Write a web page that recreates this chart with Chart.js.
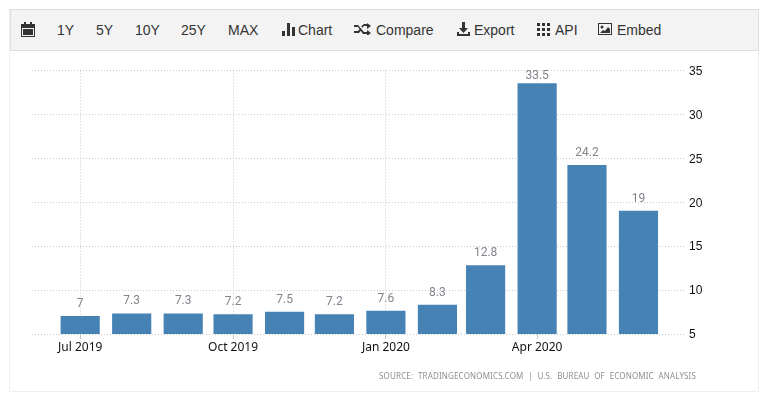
<!DOCTYPE html>
<html>
<head>
<meta charset="utf-8">
<title>Chart</title>
<script src="https://cdn.jsdelivr.net/npm/chart.js"></script>
<style>
  html, body { margin: 0; padding: 0; background: #fff; }
  body { width: 776px; height: 400px; position: relative; overflow: hidden; }
  #panel { position: absolute; left: 9px; top: 9px; width: 748px; height: 381px; border: 1px solid #efefef; box-sizing: content-box; }
  #toolbar { position: absolute; left: 10px; top: 9px; width: 747px; height: 40px; background: #f3f3f3; border: 1px solid #dedede; font: 14px "Liberation Sans", Arial, sans-serif; color: #333; }
  #toolbar span { position: absolute; top: 12px; line-height: 16px; white-space: nowrap; }
  #toolbar svg { position: absolute; fill: #333; }
  #wrap { position: absolute; left: 0; top: 0; width: 776px; height: 400px; }
  #source { position: absolute; right: 80px; top: 370px; font: 8px "Noto Sans", sans-serif; letter-spacing: 0.15px; word-spacing: 2.5px; color: #8a8f96; white-space: nowrap; }
</style>
</head>
<body>
<div id="panel"></div>
<div id="toolbar">
  <svg style="left:10px;top:12px" width="14" height="15" viewBox="0 0 14 15"><path d="M0 2h3V0h2v2h4V0h2v2h3v13H0zM1 6v8h12V6z"/><path d="M2 7h10v6H2z"/></svg>
  <span style="left:46px">1Y</span>
  <span style="left:85px">5Y</span>
  <span style="left:124px">10Y</span>
  <span style="left:170px">25Y</span>
  <span style="left:217px">MAX</span>
  <svg style="left:271px;top:13px" width="13" height="13" viewBox="0 0 13 13"><path d="M0 8h3v5H0zM5 0h3v13H5zM10 4h3v9h-3z"/></svg>
  <span style="left:287px">Chart</span>
  <svg style="left:343px;top:13px" width="17" height="12" viewBox="0 0 17 12"><path d="M0 2h4l6 7h3V7l4 3-4 3v-2h-4L4 4H0zM0 8h4l1.500-1.800 1.300 1.500L5 10H0zM10 1h3v-1l4 3-4 3V3h-3L8.500 4.800 7.200 3.300z"/></svg>
  <span style="left:365px">Compare</span>
  <svg style="left:446px;top:12px" width="13" height="14" viewBox="0 0 13 14"><path d="M5 0h3v6h3l-4.500 5L2 6h3zM0 10h2v2h9v-2h2v4H0z"/></svg>
  <span style="left:463px">Export</span>
  <svg style="left:526px;top:13px" width="13" height="13" viewBox="0 0 13 13"><path d="M0 0h3v3H0zM5 0h3v3H5zM10 0h3v3h-3zM0 5h3v3H0zM5 5h3v3H5zM10 5h3v3h-3zM0 10h3v3H0zM5 10h3v3H5zM10 10h3v3h-3z"/></svg>
  <span style="left:544px">API</span>
  <svg style="left:587px;top:13px" width="14" height="12" viewBox="0 0 14 12"><path fill-rule="evenodd" d="M0 0h14v12H0zM1 1v10h12V1z"/><path d="M2 10l3-3 2 1 3-4 2 2v4z"/><circle cx="4" cy="4" r="1.500"/></svg>
  <span style="left:606px">Embed</span>
</div>
<div id="wrap"><canvas id="chart" width="776" height="400"></canvas></div>
<div id="source">SOURCE: TRADINGECONOMICS.COM | U.S. BUREAU OF ECONOMIC ANALYSIS</div>

<script>
// monthly values
const months = ['2019-07-01', '2019-08-01', '2019-09-01', '2019-10-01', '2019-11-01', '2019-12-01',
                '2020-01-01', '2020-02-01', '2020-03-01', '2020-04-01', '2020-05-01', '2020-06-01'];
const values = [7, 7.3, 7.3, 7.2, 7.5, 7.2, 7.6, 8.3, 12.8, 33.5, 24.2, 19];
const tickMonths = ['2019-07-01', '2019-10-01', '2020-01-01', '2020-04-01'];
const tickLabels = ['Jul 2019', 'Oct 2019', 'Jan 2020', 'Apr 2020'];
const yTicks = [5, 10, 15, 20, 25, 30, 35];

// x axis counts days from the first month so the uneven month lengths show
const dayOf = s => (Date.parse(s) - Date.parse(months[0])) / 86400000;

const valueLabels = {
    id: 'valueLabels',
    afterDatasetsDraw(chart) {
        const ctx = chart.ctx;
        const bars = chart.getDatasetMeta(0).data;
        ctx.save();
        ctx.font = '12px Roboto, sans-serif';
        ctx.fillStyle = '#85828c';
        ctx.textAlign = 'center';
        ctx.textBaseline = 'middle';
        bars.forEach((bar, i) => {
            // the top label gets squeezed under the plot edge
            const y = Math.max(bar.y - 12.5, chart.chartArea.top + 5);
            ctx.fillText(String(values[i]), bar.x, y);
        });
        ctx.restore();
    }
};

new Chart(document.getElementById('chart'), {
    type: 'bar',
    data: {
        datasets: [{
            data: months.map((m, i) => ({ x: dayOf(m), y: values[i] })),
            backgroundColor: '#4682b4',
            borderWidth: 0,
            barThickness: 38.5
        }]
    },
    plugins: [valueLabels],
    options: {
        responsive: false,
        animation: false,
        layout: { padding: { left: 32, right: 51, top: 70.5, bottom: 36 } },
        plugins: { legend: { display: false }, tooltip: { enabled: false } },
        scales: {
            x: {
                type: 'linear',
                offset: false,
                min: -29,
                max: 364,
                afterFit: s => { s.height = 30; },
                afterBuildTicks: s => { s.ticks = tickMonths.map(m => ({ value: dayOf(m) })); },
                grid: { offset: false, color: '#c8c8c8', tickColor: '#c8c8c8', tickLength: 5 },
                border: { display: false, dash: [1, 2] },
                ticks: {
                    autoSkip: false,
                    maxRotation: 0,
                    padding: 1,
                    color: '#111',
                    font: { family: '"Noto Sans", sans-serif', size: 12 },
                    callback: v => tickLabels[tickMonths.findIndex(m => dayOf(m) === v)]
                }
            },
            y: {
                position: 'right',
                min: 5,
                max: 35,
                afterFit: s => { s.width = 40; },
                afterBuildTicks: s => { s.ticks = yTicks.map(v => ({ value: v })); },
                grid: { color: '#c8c8c8', drawTicks: false },
                border: { display: false, dash: [1, 2] },
                ticks: {
                    padding: 4,
                    labelOffset: 1,
                    color: '#111',
                    font: { family: '"Liberation Sans", sans-serif', size: 12 }
                }
            }
        }
    }
});
</script>
</body>
</html>
